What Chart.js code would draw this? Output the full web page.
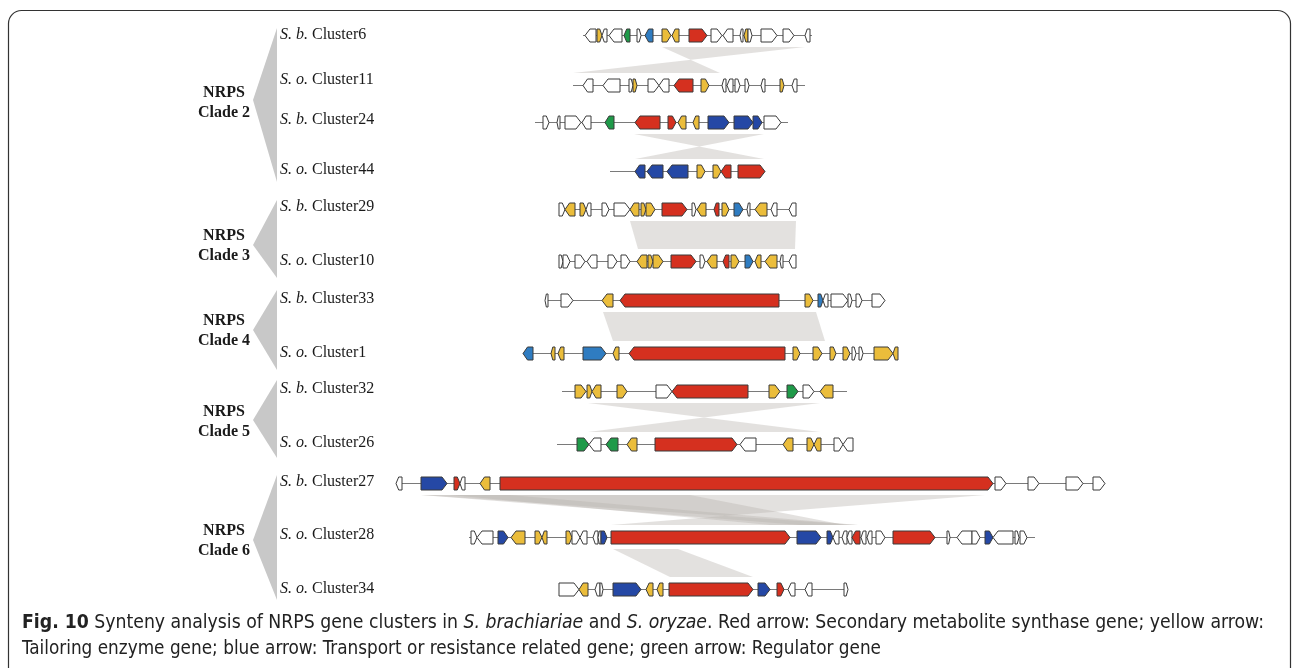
<!DOCTYPE html>
<html><head><meta charset="utf-8">
<script src="https://cdn.jsdelivr.net/npm/chart.js@4/dist/chart.umd.min.js"></script>
<style>html,body{margin:0;padding:0;background:#fff;overflow:hidden}canvas{display:block}</style>
</head><body><canvas id="c" width="1292" height="668"></canvas>
<script>
// Gene records: [start, end, strand (1 = forward, -1 = reverse), class]
// class: r = synthase, y = tailoring, b = transport/resistance, c = transport (light), g = regulator, w = other
const sbCluster6 = [[585,596,-1,'w'],[597,602,1,'y'],[602,607,-1,'w'],[609,622,-1,'w'],[624,630,-1,'g'],[637,641,1,'w'],[645,653,-1,'c'],[662,671,1,'y'],[672,679,-1,'y'],[689,707,1,'r'],[711,722,1,'w'],[723,733,-1,'w'],[740,743,-1,'w'],[744,748,-1,'y'],[748,752,1,'w'],[761,777,1,'w'],[783,794,1,'w'],[805,810,-1,'w']];
const soCluster11 = [[583,593,-1,'w'],[603,620,-1,'w'],[629,633,1,'w'],[633,637,1,'y'],[648,659,1,'w'],[659,669,-1,'w'],[674,693,-1,'r'],[701,709,1,'y'],[722,726,-1,'w'],[727,733,-1,'w'],[735,740,1,'w'],[745,749,1,'w'],[761,765,-1,'w'],[780,784,1,'y'],[792,797,-1,'w']];
const sbCluster24 = [[543,549,1,'w'],[557,560,-1,'w'],[565,581,1,'w'],[582,591,-1,'w'],[605,614,-1,'g'],[635,660,-1,'r'],[668,676,1,'r'],[678,686,-1,'y'],[693,699,-1,'y'],[708,729,1,'b'],[734,753,1,'b'],[753,762,1,'b'],[764,781,1,'w']];
const soCluster44 = [[635,645,-1,'b'],[647,663,-1,'b'],[667,688,-1,'b'],[697,705,1,'y'],[713,721,1,'y'],[721,731,-1,'r'],[738,765,1,'r']];
const sbCluster29 = [[559,565,1,'w'],[565,575,-1,'y'],[580,586,1,'y'],[586,591,-1,'w'],[602,609,1,'w'],[614,630,1,'w'],[630,639,-1,'y'],[641,646,1,'y'],[646,655,1,'y'],[662,687,1,'r'],[692,696,1,'w'],[697,706,-1,'y'],[714,719,-1,'r'],[722,729,1,'y'],[734,743,1,'c'],[747,750,-1,'w'],[755,767,-1,'y'],[771,777,-1,'w'],[789,796,-1,'w']];
const soCluster10 = [[559,563,1,'w'],[563,570,1,'w'],[575,585,1,'w'],[587,597,-1,'w'],[608,617,1,'w'],[621,630,1,'w'],[637,647,-1,'y'],[648,653,1,'y'],[653,663,1,'y'],[671,696,1,'r'],[700,705,1,'w'],[707,717,-1,'y'],[723,729,-1,'r'],[731,739,1,'y'],[745,753,1,'c'],[755,761,-1,'y'],[765,777,-1,'y'],[780,783,-1,'w'],[789,796,-1,'w']];
const sbCluster33 = [[545,548,-1,'w'],[561,573,1,'w'],[602,613,-1,'y'],[620,779,-1,'r'],[805,813,1,'y'],[818,823,1,'c'],[823,828,-1,'w'],[831,848,1,'w'],[848,852,1,'w'],[856,862,1,'w'],[872,885,1,'w']];
const soCluster1 = [[523,533,-1,'c'],[551,555,-1,'y'],[558,564,-1,'y'],[583,606,1,'c'],[613,619,-1,'y'],[629,785,-1,'r'],[793,800,1,'y'],[813,822,1,'y'],[830,836,1,'y'],[843,850,1,'y'],[852,856,1,'w'],[859,863,1,'w'],[874,893,1,'y'],[893,898,-1,'y']];
const sbCluster32 = [[575,586,1,'y'],[587,592,1,'y'],[592,601,-1,'y'],[617,627,1,'y'],[656,672,1,'w'],[672,748,-1,'r'],[769,780,1,'y'],[787,798,1,'g'],[803,814,1,'w'],[820,833,-1,'y']];
const soCluster26 = [[577,589,1,'g'],[589,601,-1,'w'],[606,618,-1,'g'],[627,637,-1,'y'],[655,737,1,'r'],[740,756,-1,'w'],[783,793,-1,'y'],[807,814,1,'y'],[814,821,-1,'y'],[834,843,1,'w'],[843,853,-1,'w']];
const sbCluster27 = [[396,402,-1,'w'],[421,447,1,'b'],[454,460,1,'r'],[460,465,-1,'w'],[480,490,-1,'y'],[500,993,1,'r'],[995,1006,1,'w'],[1028,1039,1,'w'],[1066,1083,1,'w'],[1093,1105,1,'w']];
const soCluster28 = [[471,477,1,'w'],[477,493,-1,'w'],[498,508,1,'b'],[511,525,-1,'y'],[535,542,1,'y'],[542,547,-1,'y'],[566,572,1,'y'],[572,580,1,'w'],[580,587,-1,'w'],[593,598,-1,'w'],[598,601,-1,'w'],[601,607,1,'b'],[611,790,1,'r'],[797,821,1,'b'],[827,833,1,'b'],[833,839,-1,'w'],[842,847,-1,'w'],[847,852,-1,'w'],[852,860,-1,'r'],[861,866,-1,'w'],[867,872,-1,'w'],[876,885,1,'w'],[893,935,1,'r'],[947,950,1,'w'],[957,972,-1,'w'],[972,980,1,'w'],[985,993,1,'b'],[993,1013,-1,'w'],[1015,1019,1,'w'],[1020,1027,1,'w']];
const soCluster34 = [[559,579,1,'w'],[579,588,-1,'y'],[595,600,-1,'w'],[600,603,1,'w'],[613,641,1,'b'],[646,653,-1,'y'],[657,663,-1,'y'],[669,753,1,'r'],[758,770,1,'b'],[777,784,1,'r'],[788,795,-1,'w'],[805,812,-1,'w'],[844,848,1,'w']];

// Cluster rows, top to bottom
const clusterSpecies = ['S. b.','S. o.','S. b.','S. o.','S. b.','S. o.','S. b.','S. o.','S. b.','S. o.','S. b.','S. o.','S. o.'];
const clusterNames = ['Cluster6','Cluster11','Cluster24','Cluster44','Cluster29','Cluster10','Cluster33','Cluster1','Cluster32','Cluster26','Cluster27','Cluster28','Cluster34'];
const clusterGenes = [sbCluster6, soCluster11, sbCluster24, soCluster44, sbCluster29, soCluster10, sbCluster33, soCluster1, sbCluster32, soCluster26, sbCluster27, soCluster28, soCluster34];
const clusterSpan = [[583,812],[573,805],[535,788],[610,765],[559,796],[559,796],[545,885],[523,898],[562,847],[557,853],[396,1105],[469,1035],[559,848]];

// Syntenic blocks: [upper row, lower row, upper start, upper end, lower start, lower end, inverted]
const syntenyBlocks = [
  [0,1,662,805,573,720,true],
  [2,3,634,764,635,764,true],
  [4,5,630,796,638,795,false],
  [6,7,603,816,613,825,false],
  [8,9,588,820,588,820,true],
  [10,11,421,985,611,858,true],
  [10,11,421,510,800,858,false],
  [10,11,450,690,770,845,false],
  [11,12,613,678,670,753,false]
];

// Clades: [label, first row, last row]
const clades = [['Clade 2',0,3],['Clade 3',4,5],['Clade 4',6,7],['Clade 5',8,9],['Clade 6',10,12]];

// ---- layout (value-space positions of rows, labels and wedges) ----
const rowY = [35,85,122,171,209,261,300,353,391,444,483,537,589];
const labelY = [35,80,120,170,207,261,299,353,389,443,482,535,589];
const cladeWedge = [[100,28,182],[245,200,278],[330,290,370],[420,380,458],[540,475,600]]; // apex, base top, base bottom
const cladeTextY = [103,246,331,422,541];

const geneColors = {r:'#d5301f', y:'#ebbd3b', b:'#2548a5', c:'#2f7cc1', g:'#1f9a49', w:'#ffffff'};

function genePath(ctx, x1, x2, yc, h, strand) {
  const len = x2 - x1;
  const head = Math.min(5, len * 0.45);
  ctx.beginPath();
  if (strand > 0) {
    ctx.moveTo(x1, yc - h); ctx.lineTo(x2 - head, yc - h); ctx.lineTo(x2, yc);
    ctx.lineTo(x2 - head, yc + h); ctx.lineTo(x1, yc + h);
  } else {
    ctx.moveTo(x2, yc - h); ctx.lineTo(x1 + head, yc - h); ctx.lineTo(x1, yc);
    ctx.lineTo(x1 + head, yc + h); ctx.lineTo(x2, yc + h);
  }
  ctx.closePath();
}

const syntenyPlot = {
  id: 'syntenyPlot',
  afterDraw(chart) {
    const ctx = chart.ctx;
    const xs = chart.scales.x, ys = chart.scales.y;
    const X = v => xs.getPixelForValue(v);
    const Y = v => ys.getPixelForValue(v);
    ctx.save();

    // panel frame
    ctx.strokeStyle = '#333';
    ctx.lineWidth = 1.2;
    ctx.beginPath();
    ctx.roundRect(X(8) + 0.5, Y(10) + 0.5, X(1290) - X(8), Y(720) - Y(10), 13);
    ctx.stroke();

    // clade wedges and names
    ctx.fillStyle = '#c8c8c8';
    cladeWedge.forEach(w => {
      ctx.beginPath();
      ctx.moveTo(X(253), Y(w[0]));
      ctx.lineTo(X(277), Y(w[1]));
      ctx.lineTo(X(277), Y(w[2]));
      ctx.closePath();
      ctx.fill();
    });
    ctx.fillStyle = '#1a1a1a';
    ctx.textAlign = 'center';
    ctx.textBaseline = 'middle';
    ctx.font = 'bold 16px "Liberation Serif", serif';
    clades.forEach((c, i) => {
      ctx.fillText('NRPS', X(224), Y(cladeTextY[i] - 10));
      ctx.fillText(c[0], X(224), Y(cladeTextY[i] + 10));
    });

    // cluster labels
    ctx.textAlign = 'left';
    clusterNames.forEach((n, i) => {
      const yy = Y(labelY[i]);
      ctx.font = 'italic 16px "Liberation Serif", serif';
      const sp = clusterSpecies[i];
      ctx.fillText(sp, X(280), yy);
      const w = ctx.measureText(sp + ' ').width;
      ctx.font = '16px "Liberation Serif", serif';
      ctx.fillText(n, X(280) + w, yy);
    });

    // synteny ribbons
    ctx.fillStyle = 'rgba(185,180,175,0.40)';
    syntenyBlocks.forEach(b => {
      const yt = Y(rowY[b[0]] + 12), yb = Y(rowY[b[1]] - 12);
      ctx.beginPath();
      ctx.moveTo(X(b[2]), yt);
      ctx.lineTo(X(b[3]), yt);
      if (b[6]) { ctx.lineTo(X(b[4]), yb); ctx.lineTo(X(b[5]), yb); }
      else { ctx.lineTo(X(b[5]), yb); ctx.lineTo(X(b[4]), yb); }
      ctx.closePath();
      ctx.fill();
    });

    // backbones and genes
    clusterGenes.forEach((genes, i) => {
      const yc = Y(rowY[i]);
      const h = Math.abs(Y(rowY[i] + 6.5) - yc);
      ctx.strokeStyle = '#7a7a7a';
      ctx.lineWidth = 1;
      ctx.beginPath();
      ctx.moveTo(X(clusterSpan[i][0]), Math.round(yc) + 0.5);
      ctx.lineTo(X(clusterSpan[i][1]), Math.round(yc) + 0.5);
      ctx.stroke();
      genes.forEach(g => {
        genePath(ctx, X(g[0]), X(g[1]), Math.round(yc) + 0.5, h, g[2]);
        ctx.fillStyle = geneColors[g[3]];
        ctx.fill();
        ctx.strokeStyle = '#3a3a3a';
        ctx.lineWidth = 1;
        ctx.stroke();
      });
    });

    // caption
    const line1 = [['Fig. 10','bold '],[' Synteny analysis of NRPS gene clusters in ',''],['S. brachiariae','italic '],[' and ',''],['S. oryzae','italic '],['. Red arrow: Secondary metabolite synthase gene; yellow arrow:','']];
    const line2 = [['Tailoring enzyme gene; blue arrow: Transport or resistance related gene; green arrow: Regulator gene','']];
    const fam = '20px "Liberation Sans Narrow", "DejaVu Sans Condensed", "Liberation Sans", sans-serif';
    const measure = segs => segs.reduce((s, t) => { ctx.font = t[1] + fam; return s + ctx.measureText(t[0]).width; }, 0);
    ctx.fillStyle = '#222';
    ctx.textBaseline = 'alphabetic';
    [[line1, 628, 1264], [line2, 654, 881]].forEach(([segs, by, xr]) => {
      const sx = (X(xr) - X(22)) / measure(segs);
      ctx.save();
      ctx.translate(X(22), Y(by));
      ctx.scale(sx, 1);
      let x = 0;
      segs.forEach(t => { ctx.font = t[1] + fam; ctx.fillText(t[0], x, 0); x += ctx.measureText(t[0]).width; });
      ctx.restore();
    });
    ctx.restore();
  }
};

new Chart(document.getElementById('c'), {
  type: 'scatter',
  data: { datasets: [] },
  options: {
    responsive: false,
    animation: false,
    layout: { padding: 0 },
    plugins: { legend: { display: false }, tooltip: { enabled: false } },
    scales: {
      x: { type: 'linear', min: 0, max: 1292, display: false },
      y: { type: 'linear', min: 0, max: 668, reverse: true, display: false }
    }
  },
  plugins: [syntenyPlot]
});
</script></body></html>
